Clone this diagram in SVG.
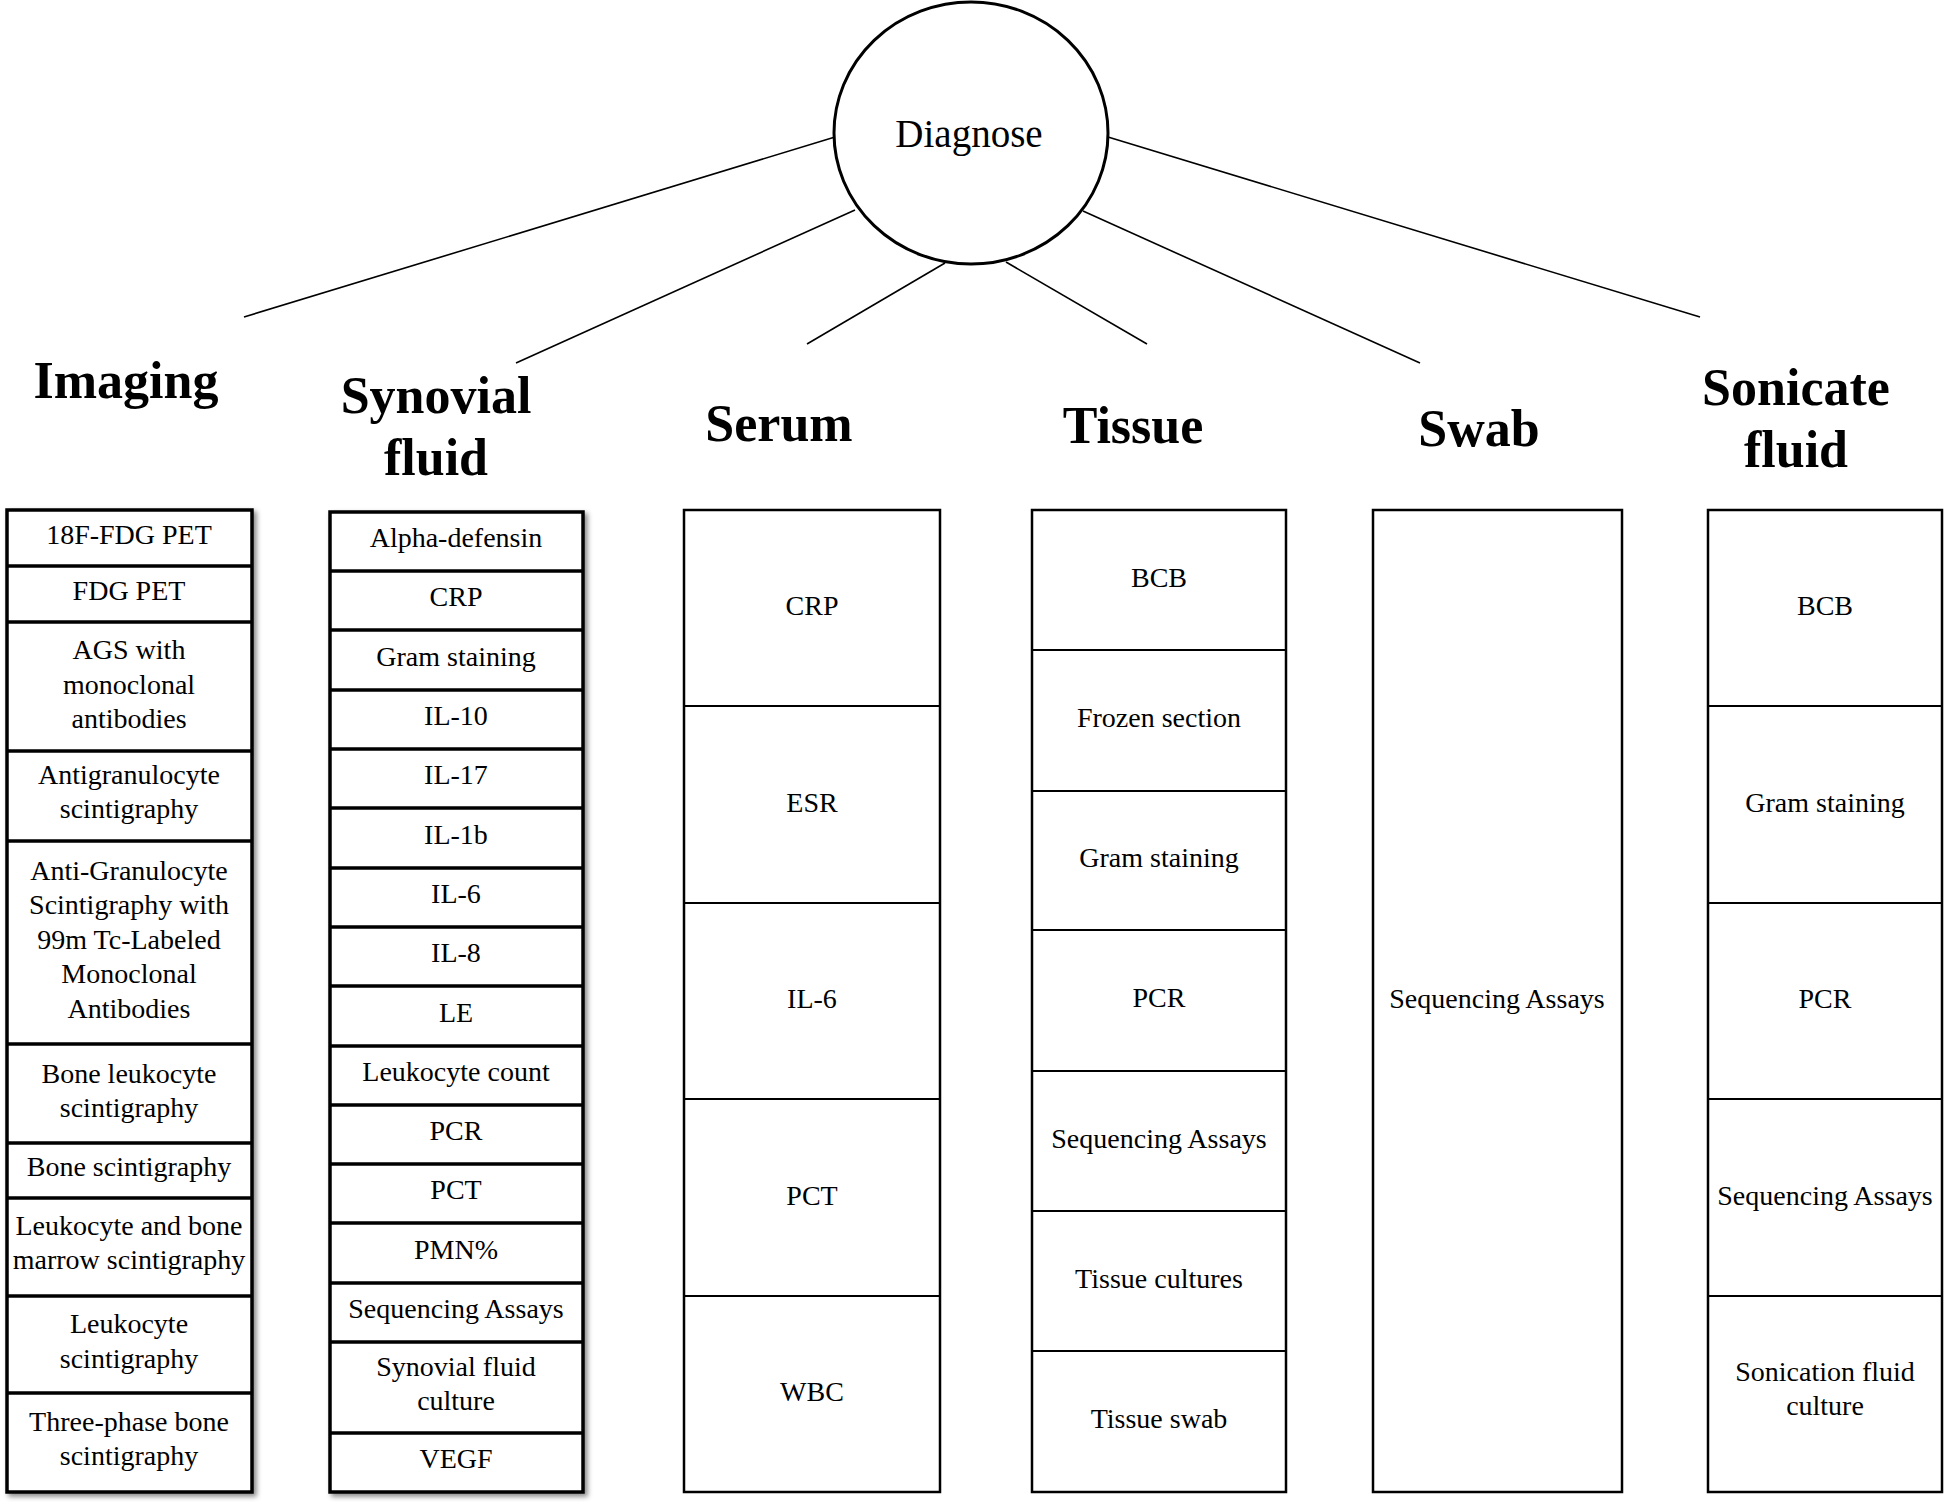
<svg xmlns="http://www.w3.org/2000/svg" width="1946" height="1502" viewBox="0 0 1946 1502">
<defs>
<style>
.t{font-family:"Liberation Serif","Times New Roman",serif;font-size:28px;fill:#000;text-anchor:middle}
.h{font-family:"Liberation Serif","Times New Roman",serif;font-size:52px;font-weight:bold;fill:#000;text-anchor:middle}
.dg{font-family:"Liberation Serif","Times New Roman",serif;font-size:39px;fill:#000;text-anchor:middle}
.thick{fill:#fff;stroke:#000;stroke-width:3.5}
.thin{fill:#fff;stroke:#000;stroke-width:2.5}
.div3{stroke:#000;stroke-width:3.5}
.div2{stroke:#000;stroke-width:2}
.con{stroke:#000;stroke-width:1.6;fill:none}
</style>
<filter id="sh" x="-10%" y="-5%" width="120%" height="110%">
<feDropShadow dx="3" dy="3" stdDeviation="2.5" flood-color="#000" flood-opacity="0.45"/>
</filter>
</defs>
<rect width="1946" height="1502" fill="#fff"/>

<g id="connectors">
<line class="con" x1="835" y1="137" x2="244" y2="317"/>
<line class="con" x1="855" y1="210" x2="516" y2="363"/>
<line class="con" x1="945" y1="263" x2="807" y2="344"/>
<line class="con" x1="1006" y1="262" x2="1147" y2="344"/>
<line class="con" x1="1083" y1="211" x2="1420" y2="363"/>
<line class="con" x1="1108" y1="137" x2="1700" y2="317"/>
</g>

<g id="diagnose">
<ellipse cx="971" cy="133" rx="137" ry="131" fill="#fff" stroke="#000" stroke-width="3"/>
<text class="dg" x="969" y="147">Diagnose</text>
</g>

<g id="headings">
<text class="h" x="126" y="398">Imaging</text>
<text class="h" x="436" y="413">Synovial</text>
<text class="h" x="436" y="475">fluid</text>
<text class="h" x="779" y="441">Serum</text>
<text class="h" x="1133" y="443">Tissue</text>
<text class="h" x="1479" y="446">Swab</text>
<text class="h" x="1796" y="405">Sonicate</text>
<text class="h" x="1796" y="467">fluid</text>
</g>

<g id="imaging">
<rect class="thick" x="7" y="510" width="245" height="982" filter="url(#sh)"/>
<line class="div3" x1="7" y1="566" x2="252" y2="566"/>
<line class="div3" x1="7" y1="622" x2="252" y2="622"/>
<line class="div3" x1="7" y1="751" x2="252" y2="751"/>
<line class="div3" x1="7" y1="841" x2="252" y2="841"/>
<line class="div3" x1="7" y1="1044" x2="252" y2="1044"/>
<line class="div3" x1="7" y1="1143" x2="252" y2="1143"/>
<line class="div3" x1="7" y1="1198" x2="252" y2="1198"/>
<line class="div3" x1="7" y1="1296" x2="252" y2="1296"/>
<line class="div3" x1="7" y1="1393" x2="252" y2="1393"/>
<text class="t" x="129" y="544">18F-FDG PET</text>
<text class="t" x="129" y="600">FDG PET</text>
<text class="t" x="129" y="659">AGS with</text>
<text class="t" x="129" y="693.5">monoclonal</text>
<text class="t" x="129" y="728">antibodies</text>
<text class="t" x="129" y="784">Antigranulocyte</text>
<text class="t" x="129" y="818">scintigraphy</text>
<text class="t" x="129" y="880">Anti-Granulocyte</text>
<text class="t" x="129" y="914">Scintigraphy with</text>
<text class="t" x="129" y="948.5">99m Tc-Labeled</text>
<text class="t" x="129" y="983">Monoclonal</text>
<text class="t" x="129" y="1017.5">Antibodies</text>
<text class="t" x="129" y="1083">Bone leukocyte</text>
<text class="t" x="129" y="1117">scintigraphy</text>
<text class="t" x="129" y="1176">Bone scintigraphy</text>
<text class="t" x="129" y="1235">Leukocyte and bone</text>
<text class="t" x="129" y="1269">marrow scintigraphy</text>
<text class="t" x="129" y="1333">Leukocyte</text>
<text class="t" x="129" y="1368">scintigraphy</text>
<text class="t" x="129" y="1431">Three-phase bone</text>
<text class="t" x="129" y="1465">scintigraphy</text>
</g>

<g id="synovial">
<rect class="thick" x="330" y="512" width="253" height="980" filter="url(#sh)"/>
<line class="div3" x1="330" y1="571" x2="583" y2="571"/>
<line class="div3" x1="330" y1="630" x2="583" y2="630"/>
<line class="div3" x1="330" y1="690" x2="583" y2="690"/>
<line class="div3" x1="330" y1="749" x2="583" y2="749"/>
<line class="div3" x1="330" y1="808" x2="583" y2="808"/>
<line class="div3" x1="330" y1="868" x2="583" y2="868"/>
<line class="div3" x1="330" y1="927" x2="583" y2="927"/>
<line class="div3" x1="330" y1="986" x2="583" y2="986"/>
<line class="div3" x1="330" y1="1046" x2="583" y2="1046"/>
<line class="div3" x1="330" y1="1105" x2="583" y2="1105"/>
<line class="div3" x1="330" y1="1164" x2="583" y2="1164"/>
<line class="div3" x1="330" y1="1223" x2="583" y2="1223"/>
<line class="div3" x1="330" y1="1283" x2="583" y2="1283"/>
<line class="div3" x1="330" y1="1342" x2="583" y2="1342"/>
<line class="div3" x1="330" y1="1433" x2="583" y2="1433"/>
<text class="t" x="456" y="547">Alpha-defensin</text>
<text class="t" x="456" y="606">CRP</text>
<text class="t" x="456" y="666">Gram staining</text>
<text class="t" x="456" y="725">IL-10</text>
<text class="t" x="456" y="784">IL-17</text>
<text class="t" x="456" y="844">IL-1b</text>
<text class="t" x="456" y="903">IL-6</text>
<text class="t" x="456" y="962">IL-8</text>
<text class="t" x="456" y="1022">LE</text>
<text class="t" x="456" y="1081">Leukocyte count</text>
<text class="t" x="456" y="1140">PCR</text>
<text class="t" x="456" y="1199">PCT</text>
<text class="t" x="456" y="1259">PMN%</text>
<text class="t" x="456" y="1318">Sequencing Assays</text>
<text class="t" x="456" y="1376">Synovial fluid</text>
<text class="t" x="456" y="1410">culture</text>
<text class="t" x="456" y="1468">VEGF</text>
</g>

<g id="serum">
<rect class="thin" x="684" y="510" width="256" height="982"/>
<line class="div2" x1="684" y1="706" x2="940" y2="706"/>
<line class="div2" x1="684" y1="903" x2="940" y2="903"/>
<line class="div2" x1="684" y1="1099" x2="940" y2="1099"/>
<line class="div2" x1="684" y1="1296" x2="940" y2="1296"/>
<text class="t" x="812" y="615">CRP</text>
<text class="t" x="812" y="812">ESR</text>
<text class="t" x="812" y="1008">IL-6</text>
<text class="t" x="812" y="1205">PCT</text>
<text class="t" x="812" y="1401">WBC</text>
</g>

<g id="tissue">
<rect class="thin" x="1032" y="510" width="254" height="982"/>
<line class="div2" x1="1032" y1="650" x2="1286" y2="650"/>
<line class="div2" x1="1032" y1="791" x2="1286" y2="791"/>
<line class="div2" x1="1032" y1="930" x2="1286" y2="930"/>
<line class="div2" x1="1032" y1="1071" x2="1286" y2="1071"/>
<line class="div2" x1="1032" y1="1211" x2="1286" y2="1211"/>
<line class="div2" x1="1032" y1="1351" x2="1286" y2="1351"/>
<text class="t" x="1159" y="587">BCB</text>
<text class="t" x="1159" y="727">Frozen section</text>
<text class="t" x="1159" y="867">Gram staining</text>
<text class="t" x="1159" y="1007">PCR</text>
<text class="t" x="1159" y="1148">Sequencing Assays</text>
<text class="t" x="1159" y="1288">Tissue cultures</text>
<text class="t" x="1159" y="1428">Tissue swab</text>
</g>

<g id="swab">
<rect class="thin" x="1373" y="510" width="249" height="982"/>
<text class="t" x="1497" y="1008">Sequencing Assays</text>
</g>

<g id="sonicate">
<rect class="thin" x="1708" y="510" width="234" height="982"/>
<line class="div2" x1="1708" y1="706" x2="1942" y2="706"/>
<line class="div2" x1="1708" y1="903" x2="1942" y2="903"/>
<line class="div2" x1="1708" y1="1099" x2="1942" y2="1099"/>
<line class="div2" x1="1708" y1="1296" x2="1942" y2="1296"/>
<text class="t" x="1825" y="615">BCB</text>
<text class="t" x="1825" y="812">Gram staining</text>
<text class="t" x="1825" y="1008">PCR</text>
<text class="t" x="1825" y="1205">Sequencing Assays</text>
<text class="t" x="1825" y="1381">Sonication fluid</text>
<text class="t" x="1825" y="1415">culture</text>
</g>
</svg>
